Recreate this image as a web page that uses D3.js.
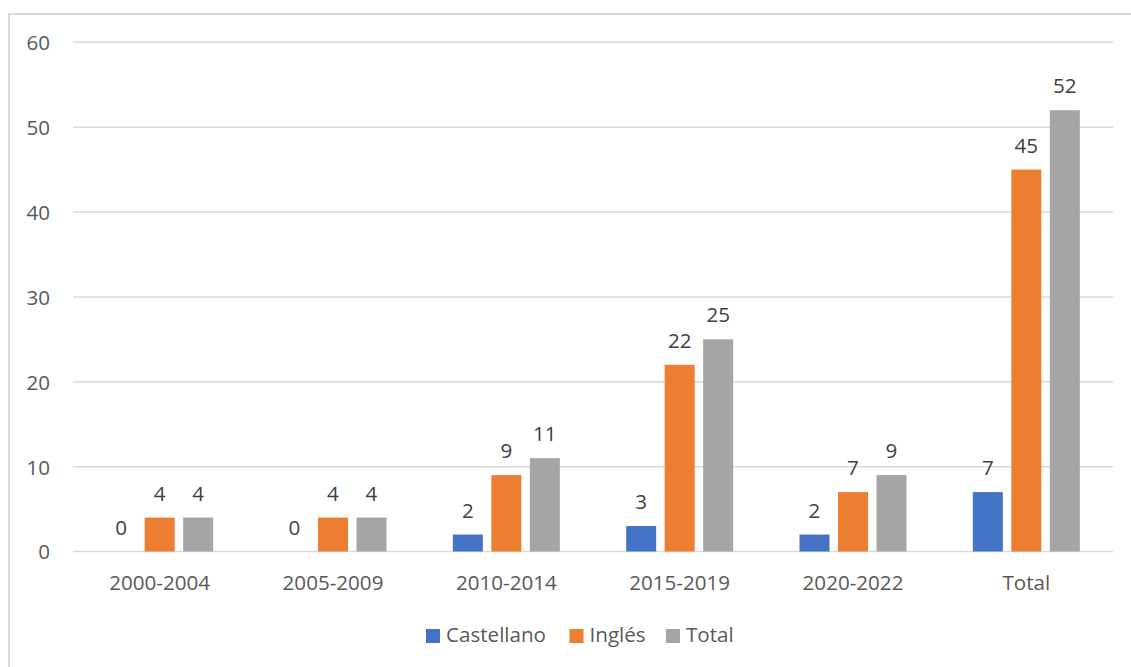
<!DOCTYPE html>
<html>
<head>
<meta charset="utf-8">
<script src="https://cdn.jsdelivr.net/npm/d3@7/dist/d3.min.js"></script>
<style>
  html, body { margin: 0; padding: 0; background: #fff; }
  svg { display: block; }
  text { font-family: "Open Sans", "Noto Sans", sans-serif; }
</style>
</head>
<body>
<svg id="chart" width="1131" height="667"></svg>
<script>
// Publications by period and language
const categories = ["2000-2004", "2005-2009", "2010-2014", "2015-2019", "2020-2022", "Total"];
const seriesNames = ["Castellano", "Inglés", "Total"];
const castellano = [0, 0, 2, 3, 2, 7];
const ingles = [4, 4, 9, 22, 7, 45];
const total = [4, 4, 11, 25, 9, 52];
const yTicks = [0, 10, 20, 30, 40, 50, 60];
const colors = ["#4472C4", "#ED7D31", "#A5A5A5"];

const seriesValues = [castellano, ingles, total];
const fontSize = 20.6;

const svg = d3.select("#chart");
const W = 1131, H = 667;

// chart frame
svg.append("path")
  .attr("d", `M9,${H} L9,14 L${W},14`)
  .attr("fill", "none")
  .attr("stroke", "#d9d9d9")
  .attr("stroke-width", 2);

const plot = { left: 73, right: 1113, top: 42.3, bottom: 551.5 };

const x = d3.scaleBand()
  .domain(categories)
  .range([plot.left, plot.right])
  .paddingInner(0)
  .paddingOuter(0);

const y = d3.scaleLinear()
  .domain([0, 60])
  .range([plot.bottom, plot.top]);

// bars within each category
const barW = 30, barGap = 8.5;
const xs = d3.scaleBand()
  .domain(seriesNames)
  .range([0, barW * 3 + barGap * 2])
  .paddingInner(barGap / (barW + barGap))
  .paddingOuter(0);

// gridlines
svg.append("g")
  .selectAll("line")
  .data(yTicks)
  .join("line")
  .attr("x1", plot.left)
  .attr("x2", plot.right)
  .attr("y1", d => y(d))
  .attr("y2", d => y(d))
  .attr("stroke", "#d9d9d9")
  .attr("stroke-width", 1.5);

// y axis labels
const yAxis = d3.axisLeft(y).tickValues(yTicks).tickSize(0).tickPadding(0);
const gy = svg.append("g").attr("transform", `translate(50,0)`).call(yAxis);
gy.select(".domain").remove();
gy.selectAll("text")
  .attr("font-family", "'Open Sans', sans-serif")
  .attr("font-size", fontSize)
  .attr("fill", "#595959")
  .attr("dy", "0.36em");

// x axis labels
const xAxis = d3.axisBottom(x).tickSize(0).tickPadding(0);
const gx = svg.append("g").attr("transform", `translate(0,${plot.bottom})`).call(xAxis);
gx.select(".domain").remove();
gx.selectAll("text")
  .attr("font-family", "'Open Sans', sans-serif")
  .attr("font-size", fontSize)
  .attr("fill", "#595959")
  .attr("dy", null)
  .attr("y", 38.5);

// bars and value labels
const groupOffset = (x.bandwidth() - xs.range()[1]) / 2;
seriesNames.forEach((name, si) => {
  const vals = seriesValues[si];
  const g = svg.append("g");
  g.selectAll("rect")
    .data(categories)
    .join("rect")
    .attr("x", c => x(c) + groupOffset + xs(name))
    .attr("width", xs.bandwidth())
    .attr("y", (c, i) => y(vals[i]))
    .attr("height", (c, i) => y(0) - y(vals[i]))
    .attr("fill", colors[si]);
  g.selectAll("text")
    .data(categories)
    .join("text")
    .attr("x", c => x(c) + groupOffset + xs(name) + xs.bandwidth() / 2)
    .attr("y", (c, i) => y(vals[i]) - 17)
    .attr("text-anchor", "middle")
    .attr("font-size", fontSize)
    .attr("fill", "#404040")
    .text((c, i) => vals[i]);
});

// legend
const legendItems = [
  { name: "Castellano", x: 426 },
  { name: "Inglés", x: 569.5 },
  { name: "Total", x: 666 }
];
const lg = svg.append("g");
legendItems.forEach((d, i) => {
  lg.append("rect")
    .attr("x", d.x)
    .attr("y", 629)
    .attr("width", 14)
    .attr("height", 14)
    .attr("fill", colors[i]);
  lg.append("text")
    .attr("x", d.x + 20)
    .attr("y", 642)
    .attr("font-size", fontSize)
    .attr("fill", "#595959")
    .text(d.name);
});
</script>
</body>
</html>
